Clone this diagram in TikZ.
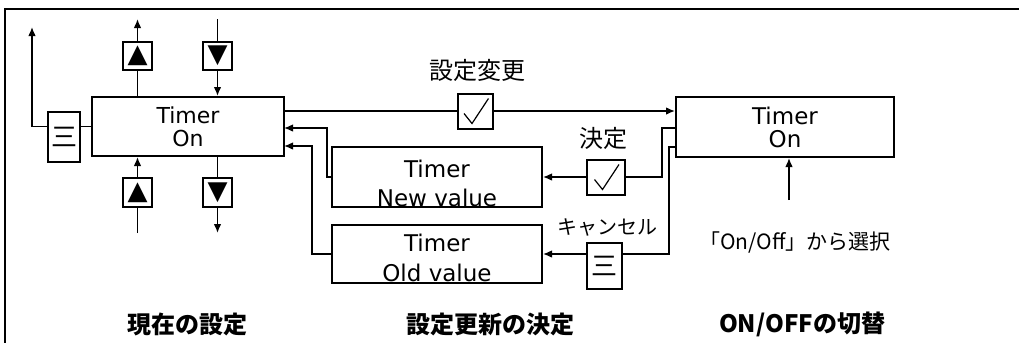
\documentclass[tikz,border=0pt]{standalone}
\usepackage{fontspec}
\setmainfont{DejaVu Sans}
\newfontfamily\jp{Noto Sans CJK JP}
\usetikzlibrary{arrows.meta}

\begin{document}
\begin{tikzpicture}[x=0.5pt, y=-0.5pt, >={Latex[length=4.5pt,width=3.8pt]}, line width=0.75pt,
    every node/.style={font=\fontsize{11}{11.5}\selectfont},
    box/.style={draw, line width=1pt, inner sep=0pt, align=center},
    btn/.style={draw, line width=1pt, inner sep=0pt, minimum width=14.5pt, minimum height=14pt, font=\fontsize{13}{13}\selectfont},
    chk/.style={draw, line width=1pt, inner sep=0pt, minimum width=17.5pt, minimum height=17.5pt,
      path picture={\draw[line width=0.6pt, shift={(path picture bounding box.center)}]
        (-11.5,2.5) -- (-3.5,12.5) -- (13,-12.5);}},
    menu/.style={draw, line width=1pt, inner sep=0pt, minimum width=16pt, font=\jp\fontsize{13}{13}\selectfont},
    lbl/.style={font=\jp\fontsize{12}{12}\selectfont},
    ttl/.style={font=\jp\bfseries\fontsize{12}{12}\selectfont}]
  \useasboundingbox (0,0) rectangle (1019,343);
  % frame
  \draw[line width=1.1pt] (1019,9) -- (5,9) -- (5,343);

  % current setting
  \node[box, minimum width=96pt, minimum height=29.5pt] (nowbox) at (188,126.5) {Timer\\On};
  \node[menu, minimum height=25pt] (menuL) at (64,137) {三};
  \node[btn] (upT) at (137.5,56) {▲};
  \node[btn] (dnT) at (217.5,56) {▼};
  \node[btn, minimum height=14.5pt] (upB) at (137.5,192.5) {▲};
  \node[btn, minimum height=14.5pt] (dnB) at (217.5,192.5) {▼};
  \coordinate (topL) at (32,27);
  \coordinate (upTend) at (137.5,19);
  \coordinate (dnTend) at (217.5,19);
  \coordinate (upBend) at (137.5,233);
  \coordinate (dnBend) at (217.5,233);

  \draw (nowbox.west) -- (nowbox.west -| menuL.east);
  \draw[->] (menuL.west |- nowbox.west) -| (topL);
  \draw (nowbox.north -| upT) -- (upT.south);
  \draw[->] (upT.north) -- (upTend);
  \draw (dnTend) -- (dnT.north);
  \draw[->] (dnT.south) -- (nowbox.north -| dnT);
  \draw (upBend) -- (upB.south);
  \draw[->] (upB.north) -- (nowbox.south -| upB);
  \draw (nowbox.south -| dnB) -- (dnB.north);
  \draw[->] (dnB.south) -- (dnBend);

  % switch on/off
  \node[box, minimum width=109pt, minimum height=30pt, font=\fontsize{11.5}{11.5}\selectfont] (setbox) at (785,127) {Timer\\On};
  \node[lbl, font=\jp\fontsize{10.5}{10.5}\selectfont] (pick) at (795,242) {「On/Off」から選択};
  \coordinate (pickarr) at (789,200);
  \draw[->] (pickarr) -- (setbox.south -| pickarr);

  % change and confirm
  \node[chk] (chgchk) at (475.5,111) {};
  \node[lbl] (chglbl) at (477,70) {設定変更};
  \draw (nowbox.east |- chgchk.west) -- (chgchk.west);
  \draw[->] (chgchk.east) -- (setbox.west |- chgchk.east);

  \node[box, minimum width=105pt, minimum height=30pt] (newbox) at (437,177) {};
  \node[font=\fontsize{11.5}{14.5}\selectfont, align=center] (newtxt) at (437,183.5) {Timer\\New value};
  \node[box, minimum width=105pt, minimum height=29pt] (oldbox) at (437,254) {};
  \node[font=\fontsize{11.5}{15}\selectfont, align=center] (oldtxt) at (437,257.5) {Timer\\Old value};

  \node[chk, minimum width=19pt] (okchk) at (606,177) {};
  \node[lbl] (oklbl) at (603,138) {決定};
  \node[menu, minimum width=17.5pt, minimum height=23pt] (cancel) at (604.5,266) {三};
  \node[lbl, font=\jp\fontsize{10}{10}\selectfont] (cnllbl) at (607,227) {キャンセル};

  \coordinate (inNew) at (284,128);
  \coordinate (inOld) at (284,146);
  \coordinate (outNew) at (676,128);
  \coordinate (outOld) at (676,147);

  \draw (outNew) -- ++(-14,0) |- (okchk.east);
  \draw[->] (okchk.west) -- (newbox.east);
  \draw[->] (newbox.west) -- ++(-4,0) |- (inNew);
  \draw (outOld) -- ++(-7,0) |- (cancel.east |- oldbox.east);
  \draw[->] (cancel.west |- oldbox.east) -- (oldbox.east);
  \draw[->] (oldbox.west) -- ++(-19,0) |- (inOld);

  % titles
  \node[ttl] (ttlnow) at (187,324) {現在の設定};
  \node[ttl] (ttlupd) at (490,324) {設定更新の決定};
  \node[ttl] (ttlsw) at (802,324) {ON/OFFの切替};
\end{tikzpicture}
\end{document}
